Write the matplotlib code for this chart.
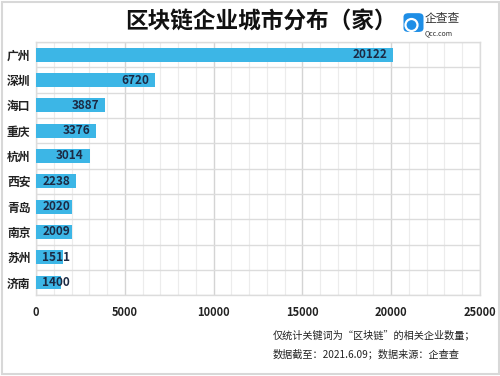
import matplotlib
matplotlib.use("Agg")
import matplotlib.pyplot as plt
from matplotlib.patches import FancyBboxPatch, Rectangle, Circle
from matplotlib.ticker import MultipleLocator

plt.rcParams['font.family'] = ['Noto Sans CJK SC', 'DejaVu Sans']

cities = ['广州', '深圳', '海口', '重庆', '杭州', '西安', '青岛', '南京', '苏州', '济南']
counts = [20122, 6720, 3887, 3376, 3014, 2238, 2020, 2009, 1511, 1400]
xticks = [0, 5000, 10000, 15000, 20000, 25000]

bar_color = '#3cb6e6'
text_color = '#1c2a44'

fig = plt.figure(figsize=(5, 3.76), dpi=100)
fig.patch.set_facecolor('white')
fig.patches.append(Rectangle((0.003, 0.004), 0.994, 0.992, transform=fig.transFigure,
                             fill=False, edgecolor='#d8d8d8', linewidth=1.5))

ax = fig.add_axes([0.072, 0.215, 0.888, 0.673])
y = list(range(len(cities)))
ax.barh(y, counts, height=0.55, color=bar_color, zorder=3)
ax.set_ylim(len(cities) - 0.5, -0.5)
ax.set_xlim(0, 25000)
ax.set_yticks(y)
ax.set_yticklabels(cities, fontsize=8.5, fontweight='semibold', color='#222222')
ax.set_xticks(xticks)
ax.set_xticklabels([str(t) for t in xticks], fontsize=8, fontweight='bold', color='#222222')
ax.xaxis.set_minor_locator(MultipleLocator(1000))
ax.set_yticks([i + 0.5 for i in range(-1, len(cities))], minor=True)
ax.tick_params(axis='both', which='both', length=0)
ax.tick_params(axis='x', pad=8)
ax.tick_params(axis='y', pad=4)
ax.grid(True, axis='x', which='major', color='#d4d4d4', linewidth=1.0, zorder=0)
ax.grid(True, axis='x', which='minor', color='#ececec', linewidth=0.8, zorder=0)
ax.grid(True, axis='y', which='minor', color='#dcdcdc', linewidth=1.0, zorder=0)
for s in ax.spines.values():
    s.set_color('#dcdcdc')
    s.set_linewidth(1.0)

for i, v in enumerate(counts):
    ax.text(max(v - 330, 1910), i, str(v), ha='right', va='center',
            fontsize=8.5, fontweight='bold', color=text_color, zorder=4)

fig.text(0.522, 0.942, '区块链企业城市分布（家）', ha='center', va='center',
         fontsize=16.3, fontweight='bold', color='#111111')

# logo
fig.patches.append(FancyBboxPatch((0.81, 0.918), 0.034, 0.044, transform=fig.transFigure,
                                  boxstyle='round,pad=0.003,rounding_size=0.01',
                                  facecolor='#1e8ee6', edgecolor='none'))
fig.patches.append(Circle((411.5, 351), 6, transform=None, fill=False,
                          edgecolor='white', linewidth=1.6))
fig.text(0.85, 0.95, '企查查', ha='left', va='center', fontsize=8.5, color='#333333')
fig.text(0.85, 0.912, 'Qcc.com', ha='left', va='center', fontsize=5, color='#333333')

fig.text(0.546, 0.109, '仅统计关键词为“区块链”的相关企业数量；', ha='left', va='center',
         fontsize=7.3, color='#222222')
fig.text(0.546, 0.059, '数据截至：2021.6.09；数据来源：企查查', ha='left', va='center',
         fontsize=7.3, color='#222222')

fig.savefig('out.png', dpi=100)
